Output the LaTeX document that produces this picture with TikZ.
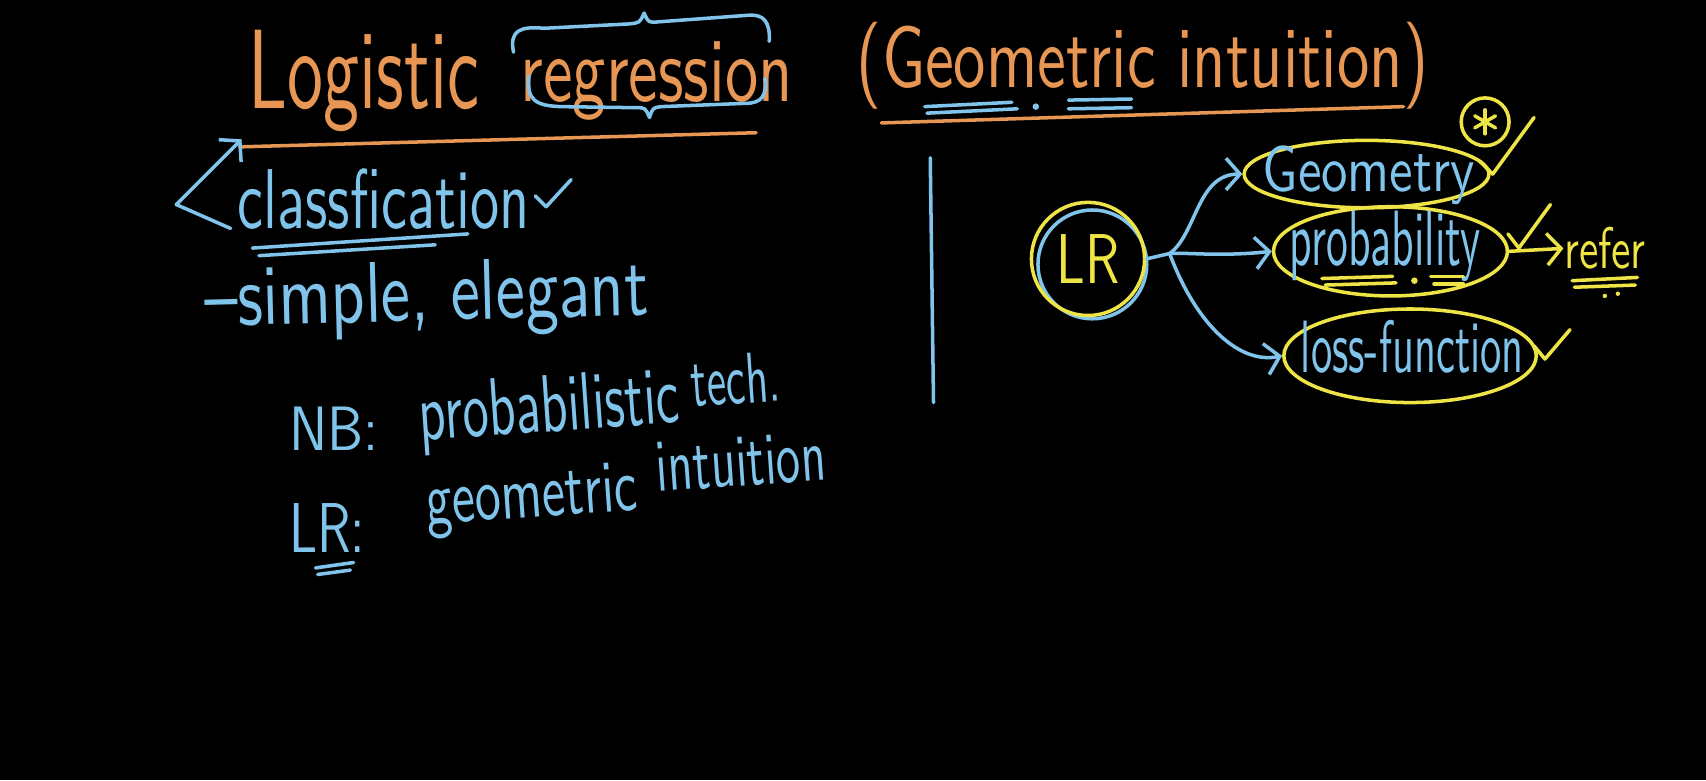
\documentclass[tikz,border=0pt]{standalone}
\usepackage{tikz}
\usetikzlibrary{shapes.geometric,arrows.meta}

\newlength\px
\setlength\px{0.1088mm}
% squeeze a word into a box of w x h (in px)
\newcommand{\chalk}[3]{\resizebox{#1\px}{#2\px}{#3}}

\definecolor{chalkorange}{RGB}{232,150,84}
\definecolor{chalkblue}{RGB}{128,196,236}
\definecolor{chalkyellow}{RGB}{238,228,70}

\begin{document}
\begin{tikzpicture}[x=0.1088mm, y=-0.1088mm,
  txt/.style={inner sep=0pt, anchor=base west, font=\sffamily},
  title/.style={txt, text=chalkorange},
  note/.style={txt, text=chalkblue},
  hilite/.style={txt, text=chalkyellow},
  stroke/.style={line width=1pt, line cap=round, line join=round},
  arrow/.style={stroke, ->, >={Straight Barb[length=4pt,width=9pt]}},
  bubble/.style={draw=chalkyellow, line width=1pt, ellipse, inner sep=0pt}]

% Board
\fill[black] (0,0) rectangle (1568,717);

% Title
\node[title] (logistic) at (228,100) {\chalk{212}{72}{Logistic}};
\node[title] (regression) at (478,93) {\chalk{250}{55}{regression}};
\node[title] (subtitle) at (787,80) {\chalk{525}{60}{(Geometric intuition)}};
\draw[stroke, chalkorange] (220,135) -- (695,122);
\draw[stroke, chalkorange] (810,113) -- (1290,98);

% Braces round "regression"
\draw[stroke, chalkblue] (472,48) .. controls (468,28) and (478,24) .. (500,26) -- (578,22)
  .. controls (588,21) .. (592,12) .. controls (596,21) .. (606,20) -- (688,14)
  .. controls (702,13) and (708,20) .. (707,38);
\draw[stroke, chalkblue] (486,70) .. controls (484,92) and (492,97) .. (515,98) -- (585,99)
  .. controls (593,99) .. (597,108) .. controls (600,99) .. (608,98) -- (685,95)
  .. controls (700,95) and (705,88) .. (703,72);

% Marks under "Geometric"
\draw[stroke, chalkblue] (850,98) -- (930,94) (852,104) -- (935,100);
\fill[chalkblue] (952,98) circle[radius=3];
\draw[stroke, chalkblue] (982,92) -- (1040,91) (982,100) -- (1040,99);

% Left side notes
\coordinate (tail) at (212,210);
\coordinate (head) at (222,128);
\draw[arrow, chalkblue] (tail) -- (162,188) -- (head);
\node[note] (classif) at (218,210) {\chalk{268}{55}{classfication}};
\draw[stroke, chalkblue] (492,180) -- (502,190) -- (525,165);
\draw[stroke, chalkblue] (232,228) -- (430,215) (238,235) -- (400,225);

\node[note, rotate=1.5] (simple) at (188,300) {\chalk{408}{55}{--simple, elegant}};
\node[note] (nblabel) at (265,414) {\chalk{82}{40}{NB:}};
\node[note, rotate=4] (prob1) at (386,405) {\chalk{240}{52}{probabilistic}};
\node[note, rotate=4] (prob2) at (636,374) {\chalk{82}{46}{tech.}};
\node[note] (lrnote) at (265,508) {\chalk{70}{45}{LR:}};
\node[note, rotate=4] (geom1) at (392,482) {\chalk{195}{45}{geometric}};
\node[note, rotate=4] (geom2) at (604,452) {\chalk{156}{45}{intuition}};
\draw[stroke, chalkblue] (290,522) -- (325,517) (292,528) -- (322,524);

% Divider
\draw[stroke, chalkblue] (855,145) -- (858,370);

% Right side: LR and its three views
\node[circle, draw=chalkblue, line width=1pt, minimum size=100\px] (lrring) at (1004,243) {};
\node[circle, draw=chalkyellow, line width=1pt, minimum size=104\px, inner sep=0pt,
  text=chalkyellow, font=\sffamily] (lr) at (1000,238) {\chalk{58}{45}{LR}};

\node[bubble, minimum width=225\px, minimum height=62\px] (geo) at (1256,160) {};
\node[note] (geotext) at (1160,176) {\chalk{195}{42}{Geometry}};
\node[bubble, minimum width=215\px, minimum height=82\px] (prob) at (1278,231) {};
\node[note] (probtext) at (1185,244) {\chalk{175}{50}{probability}};
\node[bubble, minimum width=232\px, minimum height=86\px] (loss) at (1296,327) {};
\node[note] (losstext) at (1195,342) {\chalk{205}{48}{loss-function}};

\coordinate (fork) at (1075,233);
\draw[stroke, chalkblue] (lr.east) -- (fork);
\draw[arrow, chalkblue] (fork) .. controls (1100,215) and (1100,160) .. (geo.west);
\draw[arrow, chalkblue] (fork) .. controls (1095,232) and (1120,236) .. (prob.west);
\draw[arrow, chalkblue] (fork) .. controls (1100,300) and (1140,335) .. (loss.west);

% Star and ticks
\node[circle, draw=chalkyellow, line width=1pt, minimum size=44\px] (star) at (1365,112) {};
\foreach \a in {90,30,150}
  \draw[stroke, chalkyellow] (star.center) ++(\a:11\px) -- ++(\a+180:22\px);
\draw[stroke, chalkyellow] (1360,148) -- (1372,160) -- (1410,108);
\draw[stroke, chalkyellow] (1386,215) -- (1396,228) -- (1425,188);
\draw[stroke, chalkyellow] (1410,318) -- (1420,330) -- (1443,303);

% Marks under "probability"
\draw[stroke, chalkyellow] (1215,256) -- (1280,254) (1218,262) -- (1283,260);
\fill[chalkyellow] (1300,258) circle[radius=3];
\draw[stroke, chalkyellow] (1315,254) -- (1345,254) (1318,261) -- (1345,261);

% refer
\node[hilite] (refer) at (1437,247) {\chalk{75}{38}{refer}};
\draw[arrow, chalkyellow] (prob.east) -- (refer.west);
\draw[stroke, chalkyellow] (1445,258) -- (1505,255) (1447,264) -- (1503,262);
\fill[chalkyellow] (1475,272) circle[radius=2] (1487,270) circle[radius=2];

\end{tikzpicture}
\end{document}
